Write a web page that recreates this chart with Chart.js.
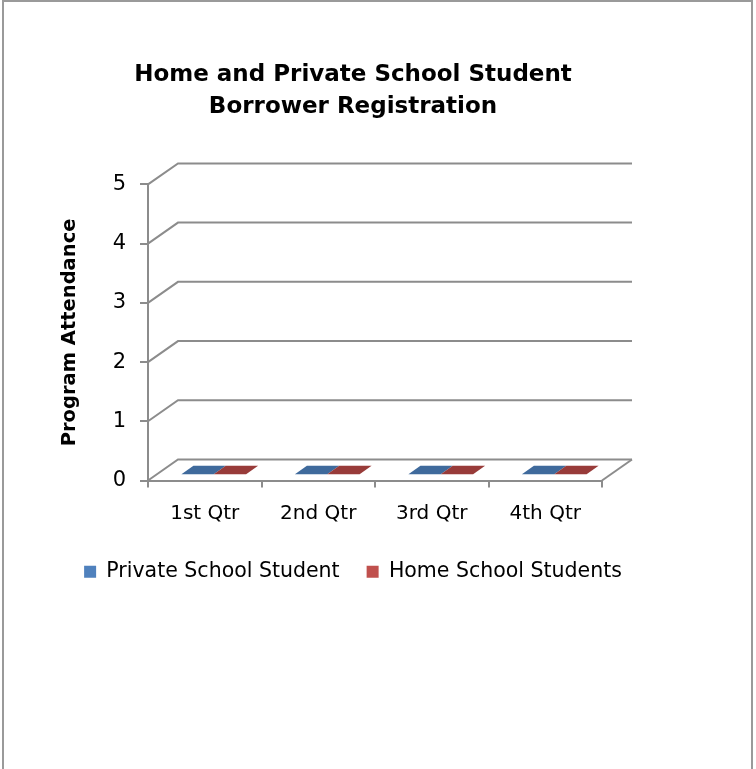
<!DOCTYPE html>
<html>
<head>
<meta charset="utf-8">
<title>Home and Private School Student Borrower Registration</title>
<script src="https://cdn.jsdelivr.net/npm/chart.js@4.4.1/dist/chart.umd.min.js"></script>
<style>
  html, body { margin: 0; padding: 0; background: #fff; }
  #frame { position: absolute; left: 2px; top: 0; width: 751px; height: 800px;
           border: 2px solid #9a9a9a; border-bottom: none; box-sizing: border-box; }
  #barChart { position: absolute; left: 0; top: 0; }
</style>
</head>
<body>
<div id="frame"></div>
<canvas id="barChart" width="706" height="592"></canvas>
<script>
"use strict";

// chart data
const categories = ['1st Qtr', '2nd Qtr', '3rd Qtr', '4th Qtr'];
const privateSchool = [0, 0, 0, 0];
const homeSchool = [0, 0, 0, 0];
const seriesNames = ['Private School Student', 'Home School Students'];
const yMin = 0, yMax = 5, yStep = 1;

const fontFamily = "'Century Gothic', 'DejaVu Sans', sans-serif";
const gridGray = '#8c8c8c';

// depth of the 3d box (floor / back wall), bars sit in the middle of it
const depthX = 30, depthY = -21;
const barFront = 0.3, barBack = 0.7;

// draws the perspective gridlines and the 3d bars
const threeD = {
  id: 'threeD',
  beforeDatasetsDraw(chart) {
    const { ctx, chartArea: a, scales: { y } } = chart;
    ctx.save();
    ctx.strokeStyle = gridGray;
    ctx.lineWidth = 2;
    y.ticks.forEach(t => {
      const py = y.getPixelForValue(t.value);
      ctx.beginPath();
      ctx.moveTo(a.left, py);
      ctx.lineTo(a.left + depthX, py + depthY);
      ctx.lineTo(a.right + depthX, py + depthY);
      ctx.stroke();
    });
    // right edge of floor
    const p0 = y.getPixelForValue(yMin);
    ctx.beginPath();
    ctx.moveTo(a.right, p0);
    ctx.lineTo(a.right + depthX, p0 + depthY);
    ctx.stroke();
    ctx.restore();
  },
  afterDatasetsDraw(chart) {
    const { ctx } = chart;
    const fx = depthX * barFront, fy = depthY * barFront;
    const bx = depthX * barBack, by = depthY * barBack;
    ctx.save();
    chart.data.datasets.forEach((ds, i) => {
      const meta = chart.getDatasetMeta(i);
      meta.data.forEach(bar => {
        const { x, y, base, width } = bar.getProps(['x', 'y', 'base', 'width'], true);
        const x0 = x - width / 2, x1 = x + width / 2;
        if (base - y > 0.5) {
          // front face
          ctx.fillStyle = ds.faceColor;
          ctx.fillRect(x0 + fx, y + fy, width, base - y);
          // side face
          ctx.fillStyle = ds.sideColor;
          ctx.beginPath();
          ctx.moveTo(x1 + fx, y + fy);
          ctx.lineTo(x1 + bx, y + by);
          ctx.lineTo(x1 + bx, base + by);
          ctx.lineTo(x1 + fx, base + fy);
          ctx.closePath();
          ctx.fill();
        }
        // top face
        ctx.fillStyle = ds.topColor;
        ctx.beginPath();
        ctx.moveTo(x0 + fx, y + fy);
        ctx.lineTo(x1 + fx, y + fy);
        ctx.lineTo(x1 + bx, y + by);
        ctx.lineTo(x0 + bx, y + by);
        ctx.closePath();
        ctx.fill();
      });
    });
    ctx.restore();
  }
};

const ctx = document.getElementById('barChart').getContext('2d');

const myBarChart = new Chart(ctx, {
  type: 'bar',
  data: {
    labels: categories,
    datasets: [
      {
        label: seriesNames[0],
        data: privateSchool,
        backgroundColor: '#4f81bd',
        faceColor: '#4f81bd', sideColor: '#3b6593', topColor: '#3f6a9c',
        borderWidth: 0
      },
      {
        label: seriesNames[1],
        data: homeSchool,
        backgroundColor: '#c0504d',
        faceColor: '#c0504d', sideColor: '#923c3a', topColor: '#983b39',
        borderWidth: 0
      }
    ]
  },
  options: {
    responsive: false,
    animation: false,
    datasets: { bar: { categoryPercentage: 0.57, barPercentage: 1.0 } },
    layout: { padding: 0 },
    plugins: {
      title: {
        display: true,
        text: ['Home and Private School Student', 'Borrower Registration'],
        color: '#000',
        font: { family: fontFamily, size: 23, weight: 'bold', lineHeight: 1.4 },
        padding: { top: 59, bottom: 61 }
      },
      legend: {
        position: 'bottom',
        labels: {
          color: '#000',
          boxWidth: 12,
          boxHeight: 12,
          padding: 27,
          font: { family: fontFamily, size: 20.5 }
        }
      },
      tooltip: { enabled: false }
    },
    scales: {
      x: {
        grid: { display: true, drawOnChartArea: false, offset: true, tickLength: 7, color: gridGray, lineWidth: 2 },
        border: { display: true, color: gridGray, width: 2 },
        ticks: { color: '#000', padding: 14, font: { family: fontFamily, size: 20 } },
        afterFit(scale) { scale.height = 54; }
      },
      y: {
        min: yMin,
        max: yMax,
        grid: { display: true, drawOnChartArea: false, tickLength: 8, color: gridGray, lineWidth: 2 },
        border: { display: true, color: gridGray, width: 2 },
        ticks: { stepSize: yStep, color: '#000', padding: 14, font: { family: fontFamily, size: 21 } },
        title: {
          display: true,
          text: 'Program Attendance',
          color: '#000',
          font: { family: fontFamily, size: 19.5, weight: 'bold', lineHeight: 1.2 },
          padding: { top: 58, bottom: 0 }
        },
        afterFit(scale) { scale.width = 148; }
      },
      depth: {
        position: 'right',
        display: true,
        grid: { display: false },
        border: { display: false },
        ticks: { display: false },
        afterFit(scale) { scale.width = 104; }
      }
    }
  },
  plugins: [threeD]
});
</script>
</body>
</html>
